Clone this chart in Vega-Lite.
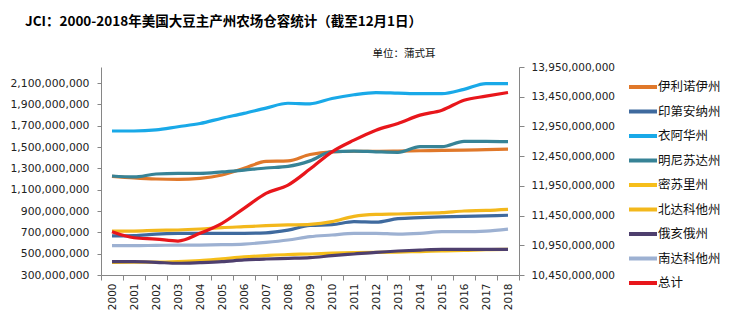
{
  "$schema": "https://vega.github.io/schema/vega-lite/v6.json",
  "autosize": {"type": "none"},
  "width": 418,
  "height": 208,
  "padding": {"left": 101, "top": 67, "right": 217, "bottom": 54},
  "background": "white",
  "title": {
    "text": "JCI：2000-2018年美国大豆主产州农场仓容统计（截至12月1日）",
    "anchor": "start",
    "frame": "group",
    "dx": -76,
    "dy": -10,
    "offset": 10,
    "font": "Noto Sans CJK SC",
    "fontSize": 13.5,
    "fontWeight": "bold",
    "color": "#000000"
  },
  "config": {
    "view": {"stroke": null},
    "axis": {"domainColor": "#868686", "tickColor": "#868686", "grid": false, "labelColor": "#222222", "labelFont": "DejaVu Sans", "labelFontSize": 10.5}
  },
  "datasets": {
    "rows": [
      {"state": "伊利诺伊州", "year": 2000, "value": 1225000000},
      {"state": "伊利诺伊州", "year": 2001, "value": 1210000000},
      {"state": "伊利诺伊州", "year": 2002, "value": 1200000000},
      {"state": "伊利诺伊州", "year": 2003, "value": 1197000000},
      {"state": "伊利诺伊州", "year": 2004, "value": 1206000000},
      {"state": "伊利诺伊州", "year": 2005, "value": 1237000000},
      {"state": "伊利诺伊州", "year": 2006, "value": 1300000000},
      {"state": "伊利诺伊州", "year": 2007, "value": 1365000000},
      {"state": "伊利诺伊州", "year": 2008, "value": 1370000000},
      {"state": "伊利诺伊州", "year": 2009, "value": 1430000000},
      {"state": "伊利诺伊州", "year": 2010, "value": 1455000000},
      {"state": "伊利诺伊州", "year": 2011, "value": 1460000000},
      {"state": "伊利诺伊州", "year": 2012, "value": 1460000000},
      {"state": "伊利诺伊州", "year": 2013, "value": 1462000000},
      {"state": "伊利诺伊州", "year": 2014, "value": 1465000000},
      {"state": "伊利诺伊州", "year": 2015, "value": 1468000000},
      {"state": "伊利诺伊州", "year": 2016, "value": 1470000000},
      {"state": "伊利诺伊州", "year": 2017, "value": 1475000000},
      {"state": "伊利诺伊州", "year": 2018, "value": 1480000000},
      {"state": "印第安纳州", "year": 2000, "value": 666000000},
      {"state": "印第安纳州", "year": 2001, "value": 669000000},
      {"state": "印第安纳州", "year": 2002, "value": 684000000},
      {"state": "印第安纳州", "year": 2003, "value": 690000000},
      {"state": "印第安纳州", "year": 2004, "value": 691000000},
      {"state": "印第安纳州", "year": 2005, "value": 691000000},
      {"state": "印第安纳州", "year": 2006, "value": 691000000},
      {"state": "印第安纳州", "year": 2007, "value": 695000000},
      {"state": "印第安纳州", "year": 2008, "value": 720000000},
      {"state": "印第安纳州", "year": 2009, "value": 765000000},
      {"state": "印第安纳州", "year": 2010, "value": 772000000},
      {"state": "印第安纳州", "year": 2011, "value": 800000000},
      {"state": "印第安纳州", "year": 2012, "value": 795000000},
      {"state": "印第安纳州", "year": 2013, "value": 828000000},
      {"state": "印第安纳州", "year": 2014, "value": 838000000},
      {"state": "印第安纳州", "year": 2015, "value": 845000000},
      {"state": "印第安纳州", "year": 2016, "value": 850000000},
      {"state": "印第安纳州", "year": 2017, "value": 855000000},
      {"state": "印第安纳州", "year": 2018, "value": 860000000},
      {"state": "衣阿华州", "year": 2000, "value": 1650000000},
      {"state": "衣阿华州", "year": 2001, "value": 1650000000},
      {"state": "衣阿华州", "year": 2002, "value": 1660000000},
      {"state": "衣阿华州", "year": 2003, "value": 1690000000},
      {"state": "衣阿华州", "year": 2004, "value": 1720000000},
      {"state": "衣阿华州", "year": 2005, "value": 1770000000},
      {"state": "衣阿华州", "year": 2006, "value": 1815000000},
      {"state": "衣阿华州", "year": 2007, "value": 1865000000},
      {"state": "衣阿华州", "year": 2008, "value": 1910000000},
      {"state": "衣阿华州", "year": 2009, "value": 1905000000},
      {"state": "衣阿华州", "year": 2010, "value": 1955000000},
      {"state": "衣阿华州", "year": 2011, "value": 1990000000},
      {"state": "衣阿华州", "year": 2012, "value": 2010000000},
      {"state": "衣阿华州", "year": 2013, "value": 2005000000},
      {"state": "衣阿华州", "year": 2014, "value": 2000000000},
      {"state": "衣阿华州", "year": 2015, "value": 2000000000},
      {"state": "衣阿华州", "year": 2016, "value": 2040000000},
      {"state": "衣阿华州", "year": 2017, "value": 2095000000},
      {"state": "衣阿华州", "year": 2018, "value": 2095000000},
      {"state": "明尼苏达州", "year": 2000, "value": 1228000000},
      {"state": "明尼苏达州", "year": 2001, "value": 1219000000},
      {"state": "明尼苏达州", "year": 2002, "value": 1247000000},
      {"state": "明尼苏达州", "year": 2003, "value": 1253000000},
      {"state": "明尼苏达州", "year": 2004, "value": 1253000000},
      {"state": "明尼苏达州", "year": 2005, "value": 1266000000},
      {"state": "明尼苏达州", "year": 2006, "value": 1284000000},
      {"state": "明尼苏达州", "year": 2007, "value": 1303000000},
      {"state": "明尼苏达州", "year": 2008, "value": 1318000000},
      {"state": "明尼苏达州", "year": 2009, "value": 1370000000},
      {"state": "明尼苏达州", "year": 2010, "value": 1456000000},
      {"state": "明尼苏达州", "year": 2011, "value": 1462000000},
      {"state": "明尼苏达州", "year": 2012, "value": 1455000000},
      {"state": "明尼苏达州", "year": 2013, "value": 1450000000},
      {"state": "明尼苏达州", "year": 2014, "value": 1503000000},
      {"state": "明尼苏达州", "year": 2015, "value": 1503000000},
      {"state": "明尼苏达州", "year": 2016, "value": 1553000000},
      {"state": "明尼苏达州", "year": 2017, "value": 1553000000},
      {"state": "明尼苏达州", "year": 2018, "value": 1550000000},
      {"state": "密苏里州", "year": 2000, "value": 418000000},
      {"state": "密苏里州", "year": 2001, "value": 420000000},
      {"state": "密苏里州", "year": 2002, "value": 420000000},
      {"state": "密苏里州", "year": 2003, "value": 425000000},
      {"state": "密苏里州", "year": 2004, "value": 435000000},
      {"state": "密苏里州", "year": 2005, "value": 452000000},
      {"state": "密苏里州", "year": 2006, "value": 470000000},
      {"state": "密苏里州", "year": 2007, "value": 482000000},
      {"state": "密苏里州", "year": 2008, "value": 492000000},
      {"state": "密苏里州", "year": 2009, "value": 497000000},
      {"state": "密苏里州", "year": 2010, "value": 505000000},
      {"state": "密苏里州", "year": 2011, "value": 510000000},
      {"state": "密苏里州", "year": 2012, "value": 512000000},
      {"state": "密苏里州", "year": 2013, "value": 515000000},
      {"state": "密苏里州", "year": 2014, "value": 520000000},
      {"state": "密苏里州", "year": 2015, "value": 525000000},
      {"state": "密苏里州", "year": 2016, "value": 530000000},
      {"state": "密苏里州", "year": 2017, "value": 538000000},
      {"state": "密苏里州", "year": 2018, "value": 540000000},
      {"state": "北达科他州", "year": 2000, "value": 712000000},
      {"state": "北达科他州", "year": 2001, "value": 712000000},
      {"state": "北达科他州", "year": 2002, "value": 719000000},
      {"state": "北达科他州", "year": 2003, "value": 722000000},
      {"state": "北达科他州", "year": 2004, "value": 731000000},
      {"state": "北达科他州", "year": 2005, "value": 744000000},
      {"state": "北达科他州", "year": 2006, "value": 753000000},
      {"state": "北达科他州", "year": 2007, "value": 762000000},
      {"state": "北达科他州", "year": 2008, "value": 769000000},
      {"state": "北达科他州", "year": 2009, "value": 775000000},
      {"state": "北达科他州", "year": 2010, "value": 800000000},
      {"state": "北达科他州", "year": 2011, "value": 850000000},
      {"state": "北达科他州", "year": 2012, "value": 868000000},
      {"state": "北达科他州", "year": 2013, "value": 872000000},
      {"state": "北达科他州", "year": 2014, "value": 878000000},
      {"state": "北达科他州", "year": 2015, "value": 884000000},
      {"state": "北达科他州", "year": 2016, "value": 900000000},
      {"state": "北达科他州", "year": 2017, "value": 905000000},
      {"state": "北达科他州", "year": 2018, "value": 915000000},
      {"state": "俄亥俄州", "year": 2000, "value": 425000000},
      {"state": "俄亥俄州", "year": 2001, "value": 425000000},
      {"state": "俄亥俄州", "year": 2002, "value": 419000000},
      {"state": "俄亥俄州", "year": 2003, "value": 410000000},
      {"state": "俄亥俄州", "year": 2004, "value": 416000000},
      {"state": "俄亥俄州", "year": 2005, "value": 425000000},
      {"state": "俄亥俄州", "year": 2006, "value": 441000000},
      {"state": "俄亥俄州", "year": 2007, "value": 450000000},
      {"state": "俄亥俄州", "year": 2008, "value": 456000000},
      {"state": "俄亥俄州", "year": 2009, "value": 463000000},
      {"state": "俄亥俄州", "year": 2010, "value": 481000000},
      {"state": "俄亥俄州", "year": 2011, "value": 497000000},
      {"state": "俄亥俄州", "year": 2012, "value": 513000000},
      {"state": "俄亥俄州", "year": 2013, "value": 525000000},
      {"state": "俄亥俄州", "year": 2014, "value": 534000000},
      {"state": "俄亥俄州", "year": 2015, "value": 541000000},
      {"state": "俄亥俄州", "year": 2016, "value": 541000000},
      {"state": "俄亥俄州", "year": 2017, "value": 541000000},
      {"state": "俄亥俄州", "year": 2018, "value": 541000000},
      {"state": "南达科他州", "year": 2000, "value": 575000000},
      {"state": "南达科他州", "year": 2001, "value": 575000000},
      {"state": "南达科他州", "year": 2002, "value": 578000000},
      {"state": "南达科他州", "year": 2003, "value": 580000000},
      {"state": "南达科他州", "year": 2004, "value": 581000000},
      {"state": "南达科他州", "year": 2005, "value": 584000000},
      {"state": "南达科他州", "year": 2006, "value": 590000000},
      {"state": "南达科他州", "year": 2007, "value": 606000000},
      {"state": "南达科他州", "year": 2008, "value": 628000000},
      {"state": "南达科他州", "year": 2009, "value": 659000000},
      {"state": "南达科他州", "year": 2010, "value": 675000000},
      {"state": "南达科他州", "year": 2011, "value": 691000000},
      {"state": "南达科他州", "year": 2012, "value": 691000000},
      {"state": "南达科他州", "year": 2013, "value": 684000000},
      {"state": "南达科他州", "year": 2014, "value": 691000000},
      {"state": "南达科他州", "year": 2015, "value": 706000000},
      {"state": "南达科他州", "year": 2016, "value": 706000000},
      {"state": "南达科他州", "year": 2017, "value": 712000000},
      {"state": "南达科他州", "year": 2018, "value": 730000000},
      {"state": "总计", "year": 2000, "value": 11178000000},
      {"state": "总计", "year": 2001, "value": 11077000000},
      {"state": "总计", "year": 2002, "value": 11055000000},
      {"state": "总计", "year": 2003, "value": 11021000000},
      {"state": "总计", "year": 2004, "value": 11151000000},
      {"state": "总计", "year": 2005, "value": 11319000000},
      {"state": "总计", "year": 2006, "value": 11571000000},
      {"state": "总计", "year": 2007, "value": 11823000000},
      {"state": "总计", "year": 2008, "value": 11963000000},
      {"state": "总计", "year": 2009, "value": 12232000000},
      {"state": "总计", "year": 2010, "value": 12523000000},
      {"state": "总计", "year": 2011, "value": 12719000000},
      {"state": "总计", "year": 2012, "value": 12887000000},
      {"state": "总计", "year": 2013, "value": 13000000000},
      {"state": "总计", "year": 2014, "value": 13140000000},
      {"state": "总计", "year": 2015, "value": 13224000000},
      {"state": "总计", "year": 2016, "value": 13392000000},
      {"state": "总计", "year": 2017, "value": 13459000000},
      {"state": "总计", "year": 2018, "value": 13521000000}
    ]
  },
  "data": {"name": "rows"},
  "encoding": {
    "x": {
      "field": "year",
      "type": "ordinal",
      "bandPosition": 0.5,
      "scale": {"type": "band", "paddingInner": 0, "paddingOuter": 0},
      "axis": {"title": null, "tickBand": "extent", "labelAngle": 270, "tickSize": 5, "labelPadding": 3}
    }
  },
  "layer": [
    {
      "transform": [{"filter": "datum.state !== '总计'"}],
      "mark": {"type": "line", "strokeWidth": 3.2, "interpolate": "monotone"},
      "encoding": {
        "y": {
          "field": "value",
          "type": "quantitative",
          "scale": {"domain": [300000000, 2250000000], "nice": false, "zero": false},
          "axis": {"title": null, "orient": "left", "format": ",.0f", "values": [300000000, 500000000, 700000000, 900000000, 1100000000, 1300000000, 1500000000, 1700000000, 1900000000, 2100000000], "tickSize": 4, "labelPadding": 8, "labelFontSize": 10.8}
        },
        "color": {
          "field": "state",
          "type": "nominal",
          "sort": null,
          "scale": {
            "domain": ["伊利诺伊州", "印第安纳州", "衣阿华州", "明尼苏达州", "密苏里州", "北达科他州", "俄亥俄州", "南达科他州", "总计"],
            "range": ["#E0782A", "#3F6A9E", "#19A9E8", "#378396", "#F6BE1A", "#F3B81C", "#4E3F6E", "#9DB1D2", "#E8161B"]
          },
          "legend": {
            "title": null,
            "orient": "none",
            "legendX": 533,
            "legendY": 11,
            "symbolType": "M-2,0H2",
            "symbolSize": 196,
            "symbolStrokeWidth": 4,
            "labelOffset": 6,
            "rowPadding": 7.5,
            "labelFont": "Noto Sans CJK SC",
            "labelFontSize": 12.5,
            "labelColor": "#111111"
          }
        }
      }
    },
    {
      "transform": [{"filter": "datum.state === '总计'"}],
      "mark": {"type": "line", "strokeWidth": 3.2, "interpolate": "monotone"},
      "encoding": {
        "y": {
          "field": "value",
          "type": "quantitative",
          "scale": {"domain": [10450000000, 13950000000], "nice": false, "zero": false},
          "axis": {
            "title": "单位：蒲式耳",
            "orient": "right",
            "format": ",.0f",
            "values": [10450000000, 10950000000, 11450000000, 11950000000, 12450000000, 12950000000, 13450000000, 13950000000],
            "tickSize": 5,
            "labelPadding": 7,
            "titleAngle": 0,
            "titleAlign": "right",
            "titleBaseline": "middle",
            "titleX": -84,
            "titleY": -14,
            "titleFont": "Noto Sans CJK SC",
            "titleFontSize": 10.5,
            "titleFontWeight": "normal",
            "titleColor": "#111111"
          }
        },
        "color": {"field": "state", "type": "nominal", "sort": null}
      }
    }
  ],
  "resolve": {"scale": {"y": "independent"}}
}
